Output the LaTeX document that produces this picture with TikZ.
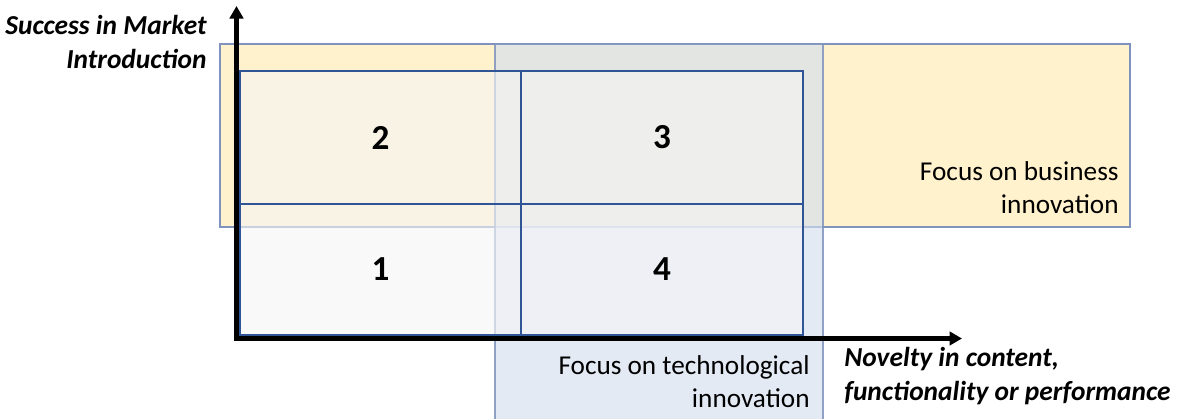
\documentclass[tikz,border=0pt]{standalone}
\usepackage{fontspec}
\setmainfont{Carlito}
\usetikzlibrary{arrows.meta}

\definecolor{bizfill}{HTML}{FFF2CC}
\definecolor{techfill}{RGB}{213,223,238}
\definecolor{rimblue}{RGB}{127,147,190}
\definecolor{cellline}{RGB}{47,85,151}
\definecolor{cellfill}{HTML}{F5F5F5}

\tikzset{
  focusrect/.style={draw=rimblue,line width=0.8pt},
  cell/.style={draw=cellline,line width=0.6pt,fill=cellfill,fill opacity=0.63,
    text opacity=1,inner sep=0pt,font=\fontsize{20}{24}\selectfont\bfseries},
  axislabel/.style={font=\fontsize{15.6}{18.8}\selectfont\bfseries\itshape,
    inner sep=0pt},
  focuslabel/.style={font=\fontsize{15.5}{18.6}\selectfont,align=right,inner sep=0pt},
  axisline/.style={line width=2.6pt,line join=miter,
    {Triangle[length=0.25cm,width=0.27cm]}-{Triangle[length=0.25cm,width=0.27cm]}}
}

\begin{document}
\begin{tikzpicture}
  \useasboundingbox (0,0) rectangle (23.58,8.36);

  %business innovation
	\fill[bizfill] (4.40,3.82) rectangle (22.60,7.48);
	\draw[focusrect] (4.40,3.82) rectangle (22.60,7.48);

  %technological innovation
	\fill[techfill,fill opacity=0.65] (9.90,-0.1) rectangle (16.46,7.48);
	\draw[focusrect,draw opacity=0.85] (9.90,-0.1) rectangle (16.46,7.48);

  %the four fields
	\node[cell,minimum width=5.62cm,minimum height=2.66cm] (c2) at (7.61,5.61) {2};
	\node[cell,minimum width=5.64cm,minimum height=2.66cm] (c3) at (13.24,5.61) {3};
	\node[cell,minimum width=5.62cm,minimum height=2.62cm] (c1) at (7.61,2.97) {1};
	\node[cell,minimum width=5.64cm,minimum height=2.62cm] (c4) at (13.24,2.97) {4};

  %axes
	\coordinate (origin) at (4.73,1.59);
	\coordinate (ytip) at (4.73,8.24);
	\coordinate (xtip) at (19.24,1.59);
	\draw[axisline] (ytip) -- (origin) -- (xtip);

  %axis labels (base = last line)
	\node[axislabel,align=right,anchor=base east] (ylabel) at (4.14,7.00)
		{Success in Market\\Introduction};
	\node[axislabel,align=left,anchor=base west] (xlabel) at (16.88,0.36)
		{Novelty in content,\\functionality or performance};

  %focus labels
	\node[focuslabel,anchor=base east] (bizlabel) at (22.38,4.09)
		{Focus on business\\innovation};
	\node[focuslabel,anchor=base east] (techlabel) at (16.20,0.21)
		{Focus on technological\\innovation};
\end{tikzpicture}
\end{document}
